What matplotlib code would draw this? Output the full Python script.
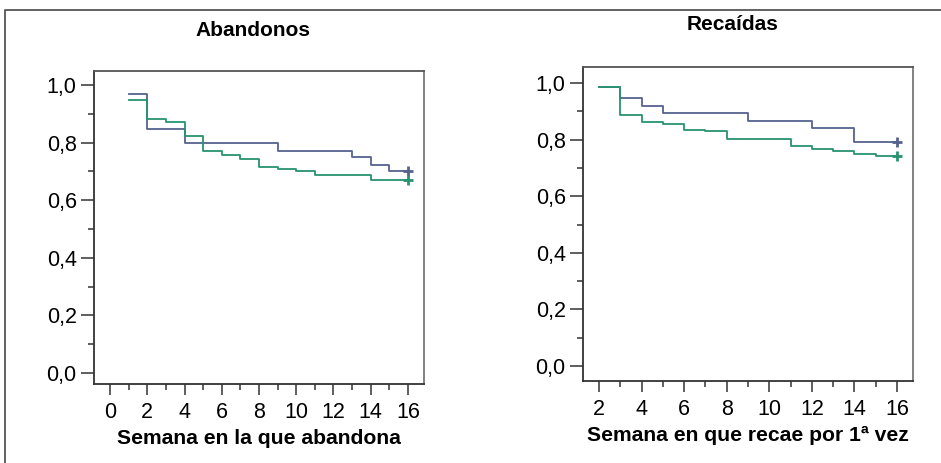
import numpy as np
import matplotlib.pyplot as plt
from matplotlib.lines import Line2D
from matplotlib.ticker import MultipleLocator, FuncFormatter

plt.rcParams['font.family'] = ['Liberation Sans', 'DejaVu Sans']

# Abandonos: step points (week, survival) and censor at end
aband_blue_x = [1, 2, 4, 9, 13, 14, 15, 16]
aband_blue_y = [0.97, 0.847, 0.80, 0.772, 0.75, 0.723, 0.703, 0.703]
aband_green_x = [1, 2, 3, 4, 5, 6, 7, 8, 9, 10, 11, 14, 16]
aband_green_y = [0.948, 0.882, 0.873, 0.824, 0.772, 0.759, 0.745, 0.714,
                 0.707, 0.703, 0.689, 0.671, 0.671]

# Recaidas
recae_blue_x = [2, 3, 4, 5, 9, 12, 14, 16]
recae_blue_y = [0.985, 0.946, 0.920, 0.893, 0.866, 0.840, 0.792, 0.792]
recae_green_x = [2, 3, 4, 5, 6, 7, 8, 11, 12, 13, 14, 15, 16]
recae_green_y = [0.985, 0.889, 0.863, 0.854, 0.834, 0.830, 0.803, 0.776,
                 0.767, 0.760, 0.750, 0.741, 0.741]

blue = '#56628f'
green = '#27936f'
spine_col = '#333333'

fig = plt.figure(figsize=(9.41, 4.63), dpi=100)

ax1 = fig.add_axes([94/941, (463-384)/463, 330/941, 313/463])
ax2 = fig.add_axes([583/941, (463-381)/463, 330/941, 314/463])

comma = FuncFormatter(lambda v, p: ('%.1f' % v).replace('.', ','))

def style(ax, xlim, ylim):
    ax.set_xlim(*xlim)
    ax.set_ylim(*ylim)
    ax.xaxis.set_major_locator(MultipleLocator(2))
    ax.xaxis.set_minor_locator(MultipleLocator(1))
    ax.yaxis.set_major_locator(MultipleLocator(0.2))
    ax.yaxis.set_minor_locator(MultipleLocator(0.1))
    ax.yaxis.set_major_formatter(comma)
    ax.tick_params(axis='y', which='major', length=9.5, width=1.1,
                   color=spine_col, labelsize=15.5, pad=3)
    ax.tick_params(axis='y', which='minor', length=4.5, width=1.1, color=spine_col)
    ax.tick_params(axis='x', which='major', length=8, width=1.1,
                   color=spine_col, labelsize=15.5, pad=5)
    ax.tick_params(axis='x', which='minor', length=4, width=1.1, color=spine_col)
    for s in ax.spines.values():
        s.set_color(spine_col)
        s.set_linewidth(1.3)
    ax.spines['right'].set_color('#777777')
    ax.spines['top'].set_color('#555555')

def km(ax, xs, ys, color):
    ax.step(xs, ys, where='post', color=color, lw=1.3)
    ax.plot(xs[-1], ys[-1], marker='+', ms=7, mew=2, color=color)

km(ax1, aband_blue_x, aband_blue_y, blue)
km(ax1, aband_green_x, aband_green_y, green)
style(ax1, (-0.86, 16.86), (-0.038, 1.049))
ax1.set_xlabel('Semana en la que abandona', fontsize=15.2, fontweight='bold',
               labelpad=4)

km(ax2, recae_blue_x, recae_blue_y, blue)
km(ax2, recae_green_x, recae_green_y, green)
style(ax2, (1.25, 16.75), (-0.053, 1.057))
ax2.set_xlabel('Semana en que recae por 1ª vez', fontsize=15.2, fontweight='bold',
               labelpad=4)

fig.text(253/941, (463-30)/463, 'Abandonos', ha='center', va='center',
         fontsize=15, fontweight='bold')
fig.text(733/941, (463-25)/463, 'Recaídas', ha='center', va='center',
         fontsize=15, fontweight='bold')

# outer frame
fig.add_artist(Line2D([5/941, 5/941, 1.0], [0.0, (463-10)/463, (463-10)/463],
                      transform=fig.transFigure, color='#555555', lw=1.3))

fig.savefig('out.png', dpi=100)
